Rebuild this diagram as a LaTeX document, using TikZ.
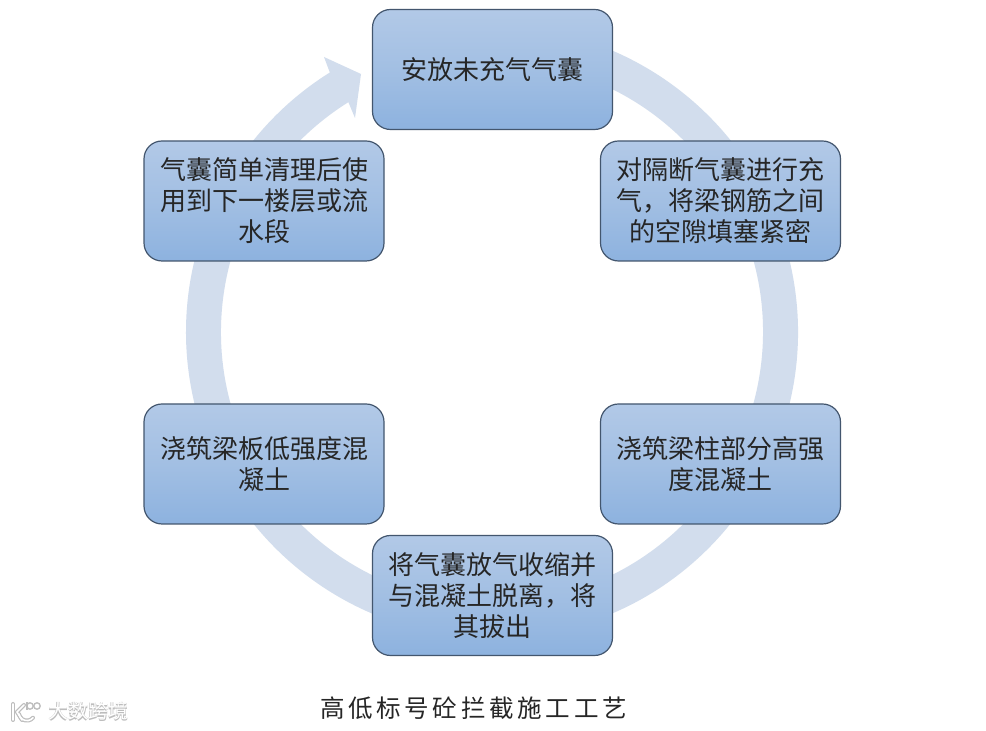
\documentclass[tikz,border=0pt]{standalone}
\usetikzlibrary{calc}
\usepackage{fontspec}
\setmainfont{Liberation Serif}
\newfontfamily\cjk{Noto Sans CJK SC}
\newfontfamily\cjktitle[LetterSpace=15]{Noto Sans CJK SC}
\definecolor{ringc}{HTML}{D2DDED}
\definecolor{boxtop}{HTML}{B2C9E7}
\definecolor{boxmid}{HTML}{A2BFE3}
\definecolor{boxbot}{HTML}{8DB2DF}
\definecolor{boxline}{HTML}{43566E}
\definecolor{wmgray}{HTML}{BDBDBD}
\tikzset{
  stagebox/.style={draw=boxline,line width=0.9pt,rounded corners=13.5pt,
    top color=boxtop,bottom color=boxbot,middle color=boxmid,
    minimum width=180pt,minimum height=90pt,inner sep=2pt,
    align=center,text=black!85,font=\cjk\fontsize{19.5}{23.25}\selectfont},
  ringband/.style={fill=ringc,draw=none},
  captiontext/.style={text=black!85,font=\cjktitle\fontsize{18.4}{22}\selectfont},
  wmshadow/.style={text=wmgray,font=\cjk\bfseries\fontsize{15}{17}\selectfont},
  wmtext/.style={text=white,font=\cjk\fontsize{15}{17}\selectfont},
  wmlogoback/.style={draw=wmgray,line width=3pt,line cap=round},
  wmlogofront/.style={draw=white,line width=1.2pt,line cap=round}
}
\begin{document}
\begin{tikzpicture}[x=0.75pt,y=0.75pt]
\useasboundingbox (0,0) rectangle (986,731);
\fill[white] (0,0) rectangle (986,731);
% ring with arrow (centre 492,399 in y-up units)
\coordinate (ringcentre) at (492,399);
\fill[ringband] ($(ringcentre)+(100:306)$) arc[start angle=100,end angle=-238,radius=306]
  -- (324,674) -- (361,657) -- (355,613)
  -- ($(ringcentre)+(122:271)$) arc[start angle=122,end angle=460,radius=271] -- cycle;
% boxes
\node[stagebox] (n1) at (492.5,661.5) {\raisebox{1pt}{安放未充气气囊}};
\node[stagebox] (n2) at (720.5,530) {对隔断气囊进行充\\气，将梁钢筋之间\\的空隙填塞紧密};
\node[stagebox] (n3) at (720.5,267) {\raisebox{1pt}{浇筑梁柱部分高强}\\\raisebox{1pt}{度混凝土}};
\node[stagebox] (n4) at (492.5,135.5) {将气囊放气收缩并\\与混凝土脱离，将\\其拔出};
\node[stagebox] (n5) at (264,267) {\raisebox{1pt}{浇筑梁板低强度混}\\\raisebox{1pt}{凝土}};
\node[stagebox] (n6) at (264,530) {气囊简单清理后使\\用到下一楼层或流\\水段};
% caption
\node[captiontext] (cap) at (473.5,23) {高低标号砼拦截施工工艺};
% watermark
\node[wmshadow] (wms) at (88.5,19.5) {大数跨境};
\node[wmtext] (wmt) at (88,20) {大数跨境};
\draw[wmlogoback] (13,27) -- (13,11);
\draw[wmlogoback] (24,26) -- (17,19) -- (22,11);
\draw[wmlogoback] (19,17) arc[start angle=190,end angle=320,radius=8];
\draw[wmgray,line width=1pt] (30,25) circle[radius=3.2];
\draw[wmgray,line width=1pt] (37,25) circle[radius=3.2];
\draw[wmgray,line width=1pt] (27,21) -- (27,29);
\draw[wmlogofront] (13,27) -- (13,11);
\draw[wmlogofront] (24,26) -- (17,19) -- (22,11);
\draw[wmlogofront] (19,17) arc[start angle=190,end angle=320,radius=8];
\end{tikzpicture}
\end{document}
